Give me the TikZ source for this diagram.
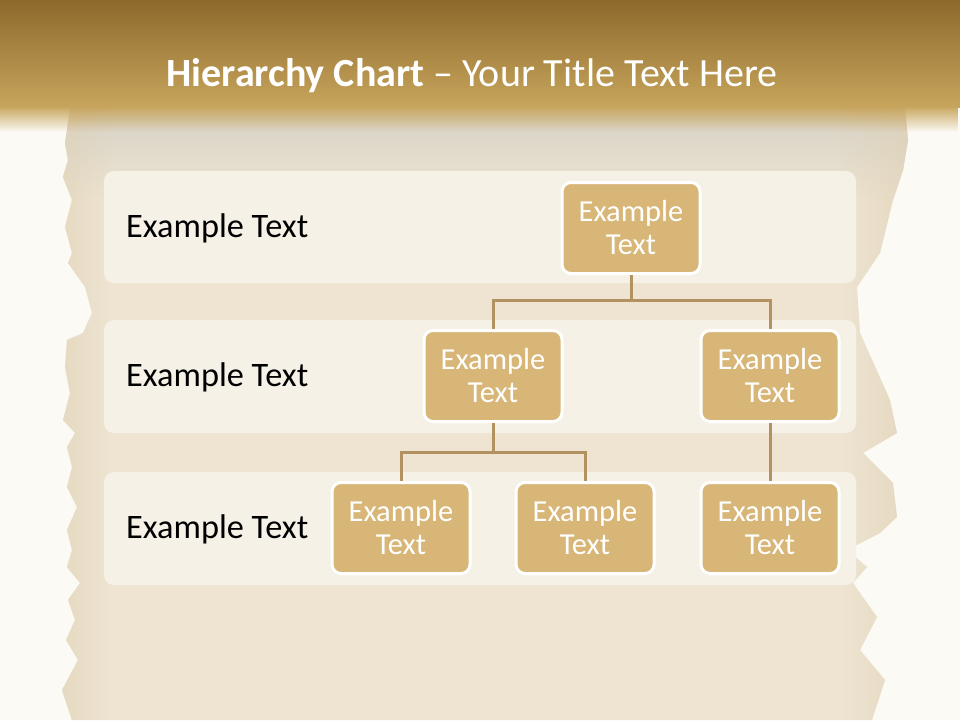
\documentclass[tikz,border=0pt]{standalone}
\usepackage{fontspec}
\setmainfont{Carlito}
\usetikzlibrary{fadings}
\definecolor{bgc}{HTML}{FBFAF5}
\definecolor{parch}{HTML}{EEE4D1}
\definecolor{parchdark}{HTML}{DFD0B4}
\definecolor{parchgray}{HTML}{D6D2C6}
\definecolor{hdtop}{HTML}{8B6A2C}
\definecolor{hdbot}{HTML}{C8A55C}
\definecolor{bandc}{HTML}{F6F1E7}
\definecolor{boxc}{HTML}{D7B677}
\definecolor{linec}{HTML}{B39262}
\tikzset{
  band/.style={fill=bandc, rounded corners=10pt, draw=none},
  orgbox/.style={fill=boxc, draw=white, line width=3pt, rounded corners=9pt,
     minimum width=138pt, minimum height=91pt, align=center, text=white,
     font=\fontsize{30.5}{33}\selectfont, inner sep=0pt},
  rowlabel/.style={anchor=west, text=black, font=\fontsize{34.3}{40}\selectfont, inner sep=0pt},
  conn/.style={draw=linec, line width=3pt}
}
\def\parchpath{(70,108) -- (905,108) -- (908,140) -- (903,170) -- (893,200) -- (880,253) -- (857,287)
  -- (860,333) -- (890,400) -- (897,433) -- (863,453) -- (893,483) -- (897,517) -- (880,533)
  -- (847,550) -- (867,567) -- (853,583) -- (877,617) -- (860,650) -- (885,680) -- (872,720)
  -- (72,720) -- (62,690) -- (78,660) -- (66,640) -- (75,620) -- (68,600) -- (80,583) -- (67,567)
  -- (72,550) -- (67,530) -- (77,507) -- (67,487) -- (72,467) -- (67,447) -- (75,433) -- (63,420)
  -- (70,393) -- (65,367) -- (67,340) -- (83,333) -- (92,313) -- (85,287) -- (68,263) -- (72,253)
  -- (65,227) -- (72,200) -- (63,177) -- (68,160) -- (65,143) -- (67,130) -- cycle}
\begin{document}
\begin{tikzpicture}[x=1pt,y=-1pt]
\useasboundingbox (0,0) rectangle (960,720);
\fill[bgc] (0,0) rectangle (960,720);
% parchment
\fill[parch] \parchpath;
\begin{scope}
\clip \parchpath;
\shade[top color=parchgray, bottom color=parch] (60,108) rectangle (910,200);
\fill[parchdark, opacity=0.6, path fading=east] (55,110) rectangle (110,720);
\fill[parchdark, opacity=0.6, path fading=west] (840,110) rectangle (910,720);
\end{scope}
% header
\shade[top color=hdtop, bottom color=hdbot] (0,0) rectangle (960,107);
\fill[hdbot, path fading=south] (0,106) rectangle (960,132);
\node[text=white, font=\fontsize{40}{46}\selectfont, inner sep=0pt] (title) at (472,76)
  {\textbf{Hierarchy Chart} – Your Title Text Here};
% bands
\fill[band] (104,171) rectangle (856,283);
\fill[band] (104,320) rectangle (856,433);
\fill[band] (104,472) rectangle (856,585);
\node[rowlabel] (l1) at (126,228) {Example Text};
\node[rowlabel] (l2) at (126,377) {Example Text};
\node[rowlabel] (l3) at (126,529) {Example Text};
% boxes
\node[orgbox] (top) at (631,228) {Example\\Text};
\node[orgbox] (m1) at (493,376) {Example\\Text};
\node[orgbox] (m2) at (770,376) {Example\\Text};
\node[orgbox] (b1) at (401,528) {Example\\Text};
\node[orgbox] (b2) at (585,528) {Example\\Text};
\node[orgbox] (b3) at (770,528) {Example\\Text};
% connectors
\coordinate (j1) at (631,300);
\coordinate (j2) at (493,452);
\draw[conn] (top.south) -- (j1) -| (m1.north);
\draw[conn] (j1) -| (m2.north);
\draw[conn] (m1.south) -- (j2) -| (b1.north);
\draw[conn] (j2) -| (b2.north);
\draw[conn] (m2.south) -- (b3.north);
\end{tikzpicture}
\end{document}
